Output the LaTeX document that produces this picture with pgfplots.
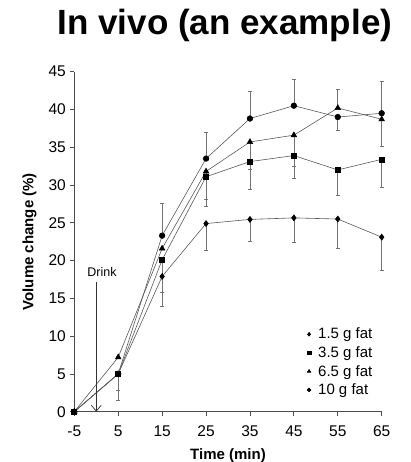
\documentclass[border=0pt]{standalone}
\usepackage{pgfplots}
\pgfplotsset{compat=1.18}
\usepackage{pgfplotstable}
\usepackage{fontspec}
\setmainfont{Liberation Sans}
\usetikzlibrary{arrows.meta}

\pgfplotstableread{
x y ep em
-5 0 0 0
5 5.0 0 3.45
15 17.9 0 4.0
25 24.9 0 3.6
35 25.45 0 2.85
45 25.65 0 3.25
55 25.5 0 3.9
65 23.1 0 4.4
}\fatA
\pgfplotstableread{
x y ep em
-5 0 0 0
5 5.0 0 2.2
15 20.1 0 4.3
25 31.1 0 3.9
35 33.1 0 3.7
45 33.9 0 3.0
55 32.0 0 3.3
65 33.4 0 3.7
}\fatB
\pgfplotstableread{
x y ep em
-5 0 0 0
5 7.2 0 0
15 21.6 0 0
25 31.8 0 3.7
35 35.7 0 3.6
45 36.6 0 4.1
55 40.2 2.5 0
65 38.7 0 3.6
}\fatC
\pgfplotstableread{
x y ep em
-5 0 0 0
5 5.0 0 0
15 23.3 4.3 0
25 33.5 3.5 0
35 38.8 3.6 0
45 40.5 3.5 0
55 39.0 0 1.8
65 39.5 4.2 0
}\fatD

\begin{document}
\begin{tikzpicture}
\path[use as bounding box] (-74.3pt,-50.3pt) rectangle (336.7pt,411.7pt);
\begin{axis}[
  scale only axis,
  width=307.4pt, height=340pt,
  xmin=-5, xmax=65, ymin=0, ymax=45,
  axis x line*=bottom, axis y line*=left,
  axis line style={line width=0.8pt, draw=black!70, -},
  xtick={-5,5,...,65}, ytick={0,5,...,45},
  tick align=outside, major tick length=4pt,
  tick style={line width=0.8pt, draw=black!70},
  /pgf/number format/assume math mode=true,
  tick label style={font=\fontsize{15.5}{15.5}\selectfont},
  xticklabel style={anchor=base, yshift=-21pt, text height=11pt, text depth=0pt},
  yticklabel style={xshift=-1pt},
  xlabel={\textbf{Time (min)}},
  ylabel={\textbf{Volume change (\%)}},
  label style={font=\fontsize{15}{15}\selectfont},
  xlabel style={yshift=-5pt},
  ylabel style={yshift=5pt},
  clip=false,
  legend style={draw=none, fill=none, at={(rel axis cs:0.745,0.035)}, anchor=south west,
    font=\fontsize{15}{15}\selectfont, row sep=3.2pt, cells={anchor=west},
    nodes={inner sep=1.5pt},
    /tikz/every odd column/.append style={column sep=5pt}},
  legend image code/.code={\draw[#1,mark size=1.9pt,mark repeat=2,mark phase=2] plot coordinates {(-0.08cm,0cm) (0cm,0cm) (0.08cm,0cm)};},
  cycle list={{black}},
  error bars/error bar style={line width=0.6pt, draw=black!55},
  error bars/error mark options={rotate=90, mark size=2pt, line width=0.6pt, draw=black!55},
]
\addplot[line width=0.6pt, draw=black!65, mark=diamond*, mark size=3pt,
  mark options={fill=black, draw=black, solid},
  error bars/.cd, y dir=both, y explicit]
  table[x=x, y=y, y error plus=ep, y error minus=em] {\fatA};
\addlegendentry{1.5 g fat}
\addplot[line width=0.6pt, draw=black!65, mark=square*, mark size=2.5pt,
  mark options={fill=black, draw=black, solid},
  error bars/.cd, y dir=both, y explicit]
  table[x=x, y=y, y error plus=ep, y error minus=em] {\fatB};
\addlegendentry{3.5 g fat}
\addplot[line width=0.6pt, draw=black!65, mark=triangle*, mark size=3.2pt,
  mark options={fill=black, draw=black, solid},
  error bars/.cd, y dir=both, y explicit]
  table[x=x, y=y, y error plus=ep, y error minus=em] {\fatC};
\addlegendentry{6.5 g fat}
\addplot[line width=0.6pt, draw=black!65, mark=*, mark size=2.8pt,
  mark options={fill=black, draw=black, solid},
  error bars/.cd, y dir=both, y explicit]
  table[x=x, y=y, y error plus=ep, y error minus=em] {\fatD};
\addlegendentry{10 g fat}
\draw[-{Straight Barb[length=6pt,width=10pt]}, line width=0.7pt, black!80]
  (axis cs:0,17.1) -- (axis cs:0,0);
\node[anchor=base, font=\fontsize{12.5}{12.5}\selectfont, inner sep=0pt] at (axis cs:1.3,17.9) {Drink};
\node[anchor=base, font=\fontsize{35}{35}\selectfont\bfseries, inner sep=0pt]
  at ([yshift=36.7pt]rel axis cs:0.49,1) {In vivo (an example)};
\end{axis}
\end{tikzpicture}
\end{document}
